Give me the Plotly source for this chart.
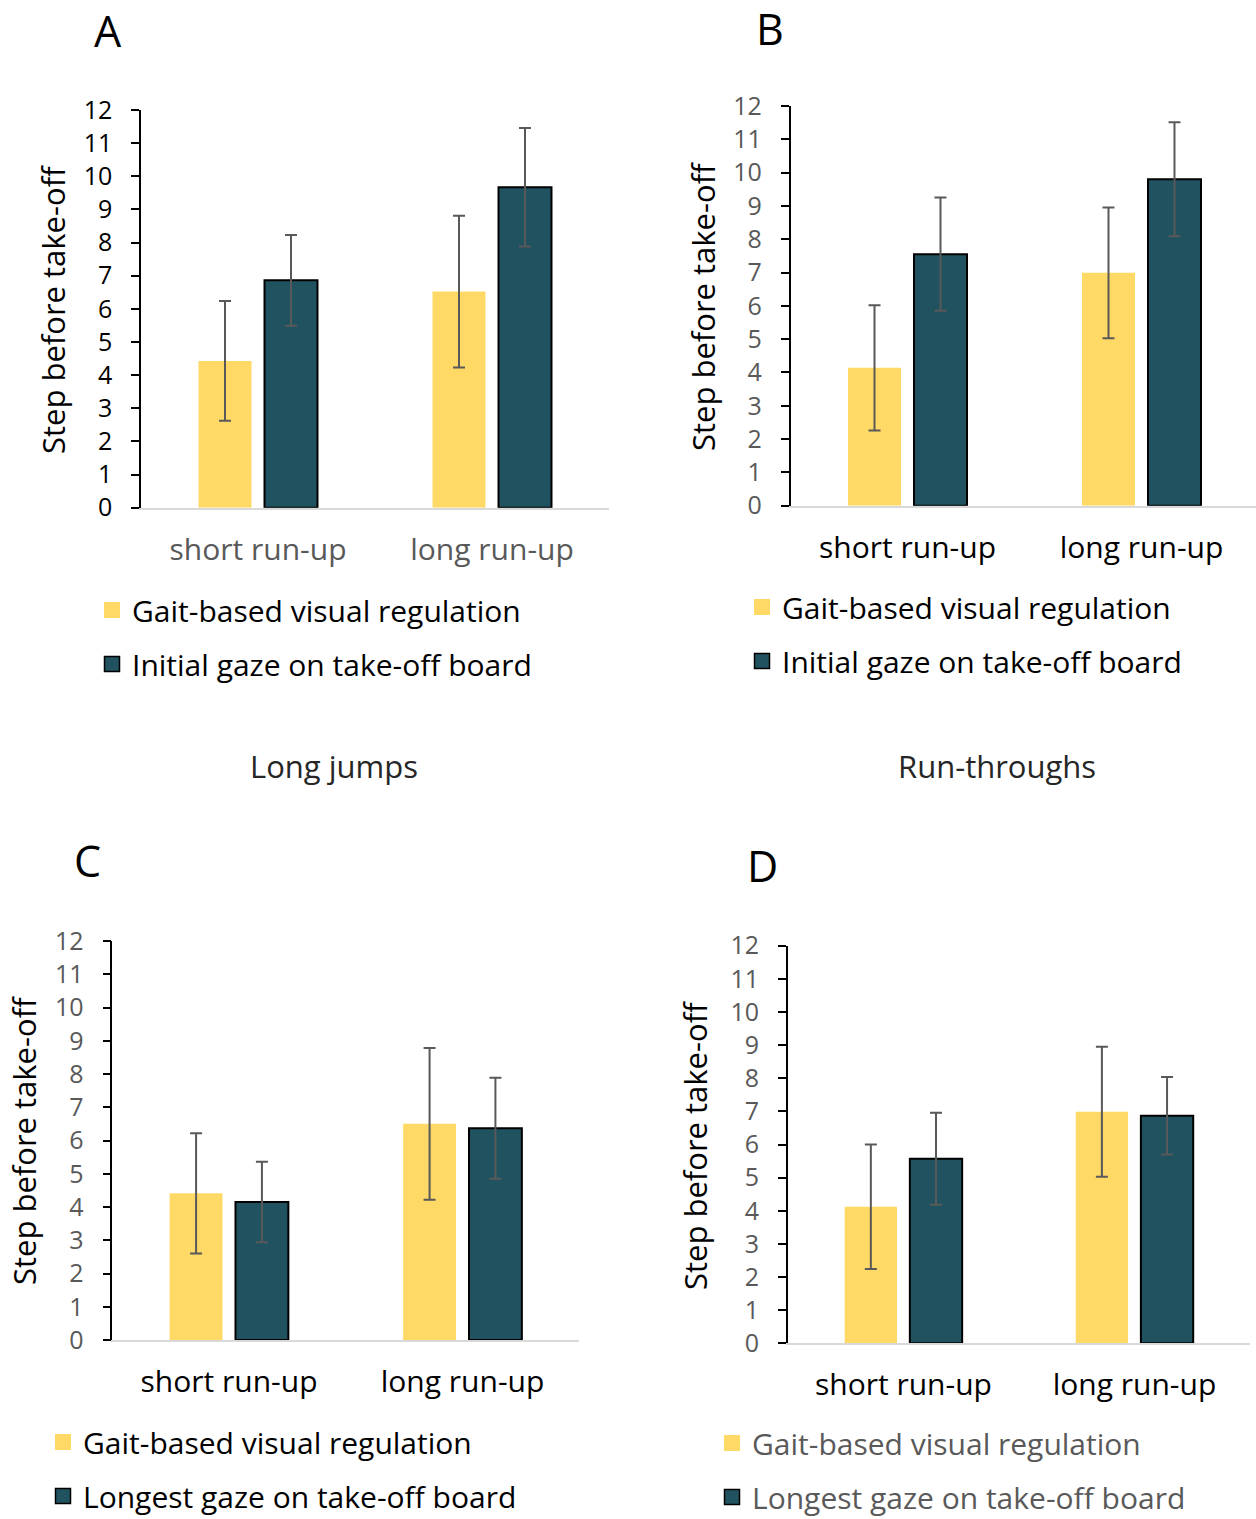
import plotly.graph_objects as go

W, H = 1256, 1519
FONT = "Open Sans"
YELLOW = "#FFD966"
TEAL = "#20535F"
GRAY = "#595959"

categories = ["short run-up", "long run-up"]
series_names = ["Gait-based visual regulation", "Initial gaze on take-off board", "Longest gaze on take-off board"]

# Panel A: Long jumps, initial gaze
a_gait = [4.43, 6.52]
a_gait_err = [1.81, 2.29]
a_init = [6.86, 9.67]
a_init_err = [1.37, 1.79]

# Panel B: Run-throughs, initial gaze
b_gait = [4.14, 6.99]
b_gait_err = [1.88, 1.96]
b_init = [7.55, 9.80]
b_init_err = [1.70, 1.71]

# Panel C: Long jumps, longest gaze
c_gait = [4.41, 6.50]
c_gait_err = [1.81, 2.28]
c_long = [4.15, 6.37]
c_long_err = [1.21, 1.52]

# Panel D: Run-throughs, longest gaze
d_gait = [4.12, 6.99]
d_gait_err = [1.88, 1.96]
d_long = [5.57, 6.87]
d_long_err = [1.39, 1.17]

y_ticks = list(range(0, 13))

def px_x(p):
    return p / W

def px_y(p):
    return 1 - p / H

panels = [
    dict(g=a_gait, ge=a_gait_err, o=a_init, oe=a_init_err, oname=series_names[1],
         xd=(141, 609), yd=(110, 507.7), xr=[-0.5, 1.5], tc="black", xc=GRAY, lc="black",
         leg=(92, 584)),
    dict(g=b_gait, ge=b_gait_err, o=b_init, oe=b_init_err, oname=series_names[1],
         xd=(790.5, 1256), yd=(106, 505.7), xr=[-0.5, 1.5 - 2.5 / 234], tc=GRAY, xc="black", lc="black",
         leg=(742, 581)),
    dict(g=c_gait, ge=c_gait_err, o=c_long, oe=c_long_err, oname=series_names[2],
         xd=(112.25, 579.25), yd=(941, 1340), xr=[-0.5, 1.5], tc=GRAY, xc="black", lc="black",
         leg=(43, 1416)),
    dict(g=d_gait, ge=d_gait_err, o=d_long, oe=d_long_err, oname=series_names[2],
         xd=(787.9, 1250), yd=(945.7, 1343.3), xr=[-0.5, 1.5], tc=GRAY, xc="black", lc=GRAY,
         leg=(712, 1417)),
]

fig = go.Figure()
layout = {}
for i, p in enumerate(panels):
    n = "" if i == 0 else str(i + 1)
    lg = "legend" if i == 0 else "legend" + str(i + 1)
    fig.add_trace(go.Bar(
        x=categories, y=p["g"], name=series_names[0], showlegend=False,
        marker=dict(color=YELLOW, line=dict(width=0)),
        error_y=dict(type="data", array=p["ge"], color=GRAY, thickness=2, width=6),
        xaxis="x" + n, yaxis="y" + n,
    ))
    fig.add_trace(go.Bar(
        x=categories, y=p["o"], name=p["oname"], showlegend=False,
        marker=dict(color=TEAL, line=dict(width=2, color="black")),
        error_y=dict(type="data", array=p["oe"], color=GRAY, thickness=2, width=6),
        xaxis="x" + n, yaxis="y" + n,
    ))
    # legend entries (square swatches)
    fig.add_trace(go.Scatter(
        x=[None], y=[None], mode="markers", name=series_names[0],
        marker=dict(symbol="square", size=16, color=YELLOW, line=dict(width=0)),
        xaxis="x" + n, yaxis="y" + n, legend=lg, legendgroup="g%d" % i, hoverinfo="skip",
    ))
    fig.add_trace(go.Scatter(
        x=[None], y=[None], mode="markers", name=p["oname"],
        marker=dict(symbol="square", size=15, color=TEAL, line=dict(width=1.5, color="black")),
        xaxis="x" + n, yaxis="y" + n, legend=lg, legendgroup="o%d" % i, hoverinfo="skip",
    ))
    layout["xaxis" + n] = dict(
        domain=[px_x(p["xd"][0]), px_x(p["xd"][1])], anchor="y" + n,
        type="category", categoryarray=categories,
        range=p["xr"], showline=True, linecolor="#D9D9D9", linewidth=2,
        ticks="", showgrid=False, zeroline=False, fixedrange=True,
        tickfont=dict(family=FONT, size=30, color=p["xc"]), ticklabelstandoff=14,
    )
    layout["yaxis" + n] = dict(
        domain=[px_y(p["yd"][1]), px_y(p["yd"][0])], anchor="x" + n,
        range=[0, 12], tickvals=y_ticks, showline=True, linecolor="black", linewidth=1.5,
        ticks="outside", ticklen=8, tickwidth=1.5, tickcolor="black",
        showgrid=False, zeroline=False, fixedrange=True,
        tickfont=dict(family=FONT, size=25, color=p["tc"]), ticklabelstandoff=14,
    )
    layout[lg] = dict(
        x=px_x(p["leg"][0]), y=px_y(p["leg"][1]), xanchor="left", yanchor="top",
        xref="paper", yref="paper", orientation="v", tracegroupgap=12,
        itemwidth=30, font=dict(family=FONT, size=30, color=p["lc"]), bgcolor="rgba(0,0,0,0)",
    )

ann = []
ylab_pos = [(53, 309), (703, 306), (24, 1140), (695, 1145)]
for (x, y) in ylab_pos:
    ann.append(dict(text="Step before take-off", x=px_x(x), y=px_y(y), xref="paper", yref="paper",
                    textangle=-90, showarrow=False, xanchor="center", yanchor="middle",
                    font=dict(family=FONT, size=31, color="black")))
for (t, x, y) in [("A", 108, 30), ("B", 770, 28), ("C", 87, 860), ("D", 762, 865)]:
    ann.append(dict(text=t, x=px_x(x), y=px_y(y), xref="paper", yref="paper", showarrow=False,
                    xanchor="center", yanchor="middle", font=dict(family=FONT, size=43, color="black")))
for (t, x, y) in [("Long jumps", 334, 766), ("Run-throughs", 997, 766)]:
    ann.append(dict(text=t, x=px_x(x), y=px_y(y), xref="paper", yref="paper", showarrow=False,
                    xanchor="center", yanchor="middle", font=dict(family=FONT, size=31, color="#262626")))

fig.update_layout(
    width=W, height=H, margin=dict(l=0, r=0, t=0, b=0, autoexpand=False),
    paper_bgcolor="white", plot_bgcolor="white",
    barmode="group", bargap=0.436, bargroupgap=0.197,
    showlegend=True, annotations=ann, font=dict(family=FONT),
    **layout,
)
fig.write_html("out.html", config={"displayModeBar": False},
               post_script="document.body.style.margin='0px';")
